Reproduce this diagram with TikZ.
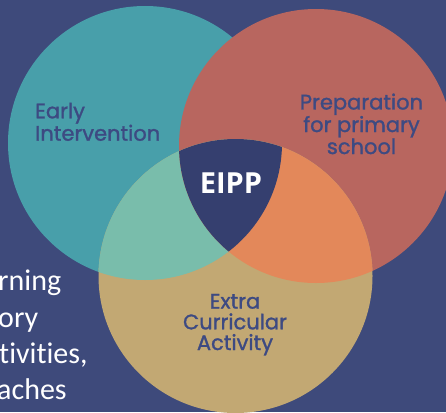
\documentclass[tikz,border=0pt]{standalone}
\usepackage{fontspec}
\newfontfamily\popfont[FakeBold=1.3]{Poppins}
\newfontfamily\calfont[Ligatures=NoCommon]{Carlito}
\newfontfamily\opfont{Open Sans}
\definecolor{bgc}{HTML}{3E4A7B}
\definecolor{tealc}{HTML}{489FAA}
\definecolor{redc}{HTML}{B8665F}
\definecolor{tanc}{HTML}{C2A873}
\definecolor{greenc}{HTML}{79BDAB}
\definecolor{orangec}{HTML}{E3885A}
\definecolor{navyc}{HTML}{353F6F}
\definecolor{labc}{HTML}{3D4A82}
\tikzset{
  lab/.style={inner sep=0pt, text=labc, font=\popfont\fontsize{21}{20.7}\selectfont},
  side/.style={inner sep=0pt, text=white, anchor=base west, font=\calfont\fontsize{30}{30}\selectfont},
}
\begin{document}
\begin{tikzpicture}[x=1pt,y=-1pt]
\fill[bgc] (0,0) rectangle (446,412);
\useasboundingbox (0,0) rectangle (446,412);
\clip (0,0) rectangle (446,412);
\coordinate (A) at (145,143);
\coordinate (B) at (316,146);
\coordinate (C) at (235.5,276);
\fill[tealc] (A) circle (137pt);
\fill[redc] (B) circle (137pt);
\fill[tanc] (C) circle (137pt);
\begin{scope}
  \clip (A) circle (137pt);
  \fill[greenc] (C) circle (137pt);
\end{scope}
\begin{scope}
  \clip (B) circle (137pt);
  \fill[orangec] (C) circle (137pt);
\end{scope}
\begin{scope}
  \clip (A) circle (137pt);
  \clip (B) circle (137pt);
  \fill[navyc] (C) circle (137pt);
\end{scope}
\node[lab, anchor=base west, align=left] (early) at (35,140.7) {Early\\Intervention};
\node[lab, anchor=base, align=center] (prep) at (361.5,154) {Preparation\\for primary\\school};
\node[lab, anchor=base, align=center] (extra) at (235,350) {Extra\\Curricular\\Activity};
\node[inner sep=0pt, text=white, anchor=base, font=\opfont\bfseries\fontsize{29}{29}\selectfont] (eipp) at (231,193) {EIPP};
\node[side] (s1) at (-2,290) {rning};
\node[side] (s2) at (-2,327) {ory};
\node[side] (s3) at (-1,363) {tivities,};
\node[side] (s4) at (-3,399) {aches};
\end{tikzpicture}
\end{document}
